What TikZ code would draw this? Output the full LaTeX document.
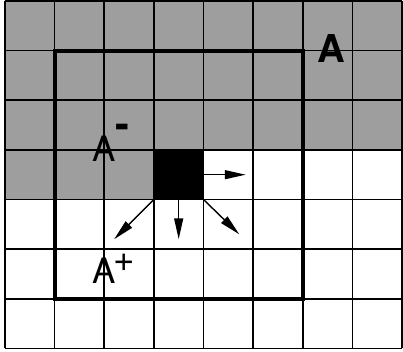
\documentclass[tikz,border=0pt]{standalone}
\usepackage{fontspec}
\setmainfont{TeX Gyre Heros}
\usetikzlibrary{arrows.meta}

% Raised signs after a set name.
\newcommand{\upminus}{\raisebox{13.5pt}{\fontsize{24}{24}\selectfont\bfseries -}}
\newcommand{\upplus}{\raisebox{7pt}{\fontsize{21}{21}\selectfont +}}

\begin{document}
\begin{tikzpicture}[x=1cm, y=1cm,
    % Shaded part of the lattice: all cells already visited.
    visited/.style={fill=black!38, draw=none},
    % The cell being updated: solid black square.
    current/.style={rectangle, fill=black, draw=black,
                    minimum size=1cm, inner sep=0pt},
    % Thin lattice lines and the heavy window outline.
    lattice/.style={line width=0.9pt},
    window/.style={line width=2.2pt},
    % Update arrows: from the current cell to its forward neighbours.
    push/.style={-{Triangle[length=4.2mm, width=1.8mm]}, line width=0.8pt},
    % Set labels.
    setlabel/.style={anchor=base west, inner sep=0pt,
                     font=\fontsize{20}{24}\selectfont}
]
    \useasboundingbox (-0.1, -0.06) rectangle (8.02, 7.02);

    % === Visited cells ===
    \fill[visited] (0, 4) rectangle (8, 7);
    \fill[visited] (0, 3) rectangle (3, 4);

    % === Lattice ===
    \draw[lattice] (0, 0) grid (8, 7);

    % === Window A ===
    \draw[window] (1, 1) rectangle (6, 6);

    % === Current cell and its forward neighbours ===
    \node[current] (cell) at (3.5, 3.5) {};
    \coordinate (east)  at (4.85, 3.5);
    \coordinate (swest) at (2.2, 2.2);
    \coordinate (south) at (3.5, 2.2);
    \coordinate (seast) at (4.72, 2.3);

    \draw[push] (cell.east)       -- (east);
    \draw[push] (cell.south west) -- (swest);
    \draw[push] (cell.south)      -- (south);
    \draw[push] (cell.south east) -- (seast);

    % === Labels ===
    \node[setlabel, font=\fontsize{22}{26}\selectfont\bfseries] (labA)
        at (6.28, 5.77) {A};
    \node[setlabel] (labAminus) at (1.76, 3.76) {A\upminus};
    \node[setlabel] (labAplus)  at (1.76, 1.31) {A\kern-1.5pt\upplus};

\end{tikzpicture}
\end{document}
